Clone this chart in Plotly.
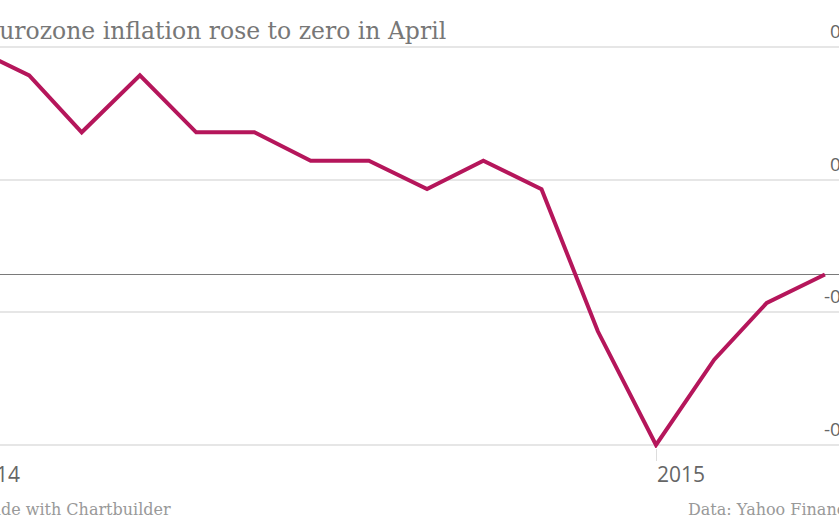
import pandas as pd
import plotly.graph_objects as go

# Eurozone annual inflation, %
months = [
    "2014-01-01", "2014-02-01", "2014-03-01", "2014-04-01", "2014-05-01",
    "2014-06-01", "2014-07-01", "2014-08-01", "2014-09-01", "2014-10-01",
    "2014-11-01", "2014-12-01", "2015-01-01", "2015-02-01", "2015-03-01",
    "2015-04-01",
]
inflation = [0.8, 0.7, 0.5, 0.7, 0.5, 0.5, 0.4, 0.4, 0.3, 0.4, 0.3, -0.2,
             -0.6, -0.3, -0.1, 0.0]

y_ticks = [-0.6, -0.1333, 0.3333, 0.8]
y_labels = ["-0.60", "-0.13", "0.33", "0.80"]
x_ticks = ["2014-01-01", "2015-01-01"]
x_labels = ["2014", "2015"]

W, H = 839, 523
TOP, BOTTOM = 44, 448  # plot area in pixels (a little padding round the grid)
PAD = 3 / 284.3        # 3px of padding in data units
x_range = [pd.Timestamp("2014-01-16 11:00"), pd.Timestamp("2015-04-08 12:00")]


def xfrac(d):
    d = pd.Timestamp(d)
    return (d - x_range[0]) / (x_range[1] - x_range[0])


def ypaper(py):
    return (BOTTOM - py) / (BOTTOM - TOP)


line_col = "#b5165b"
grey = "#777777"

fig = go.Figure()
fig.add_trace(
    go.Scatter(
        x=months,
        y=inflation,
        mode="lines",
        line=dict(color=line_col, width=4),
        hoverinfo="x+y",
    )
)

fig.update_xaxes(
    range=[x_range[0], x_range[1]],
    showgrid=False,
    zeroline=False,
    showline=False,
    tickvals=[x_ticks[1]],
    ticks="outside",
    ticklen=12,
    tickcolor="#dddddd",
    tickwidth=1,
    showticklabels=False,
)
fig.update_yaxes(
    range=[-0.6 - PAD, 0.8 + PAD],
    tickvals=y_ticks,
    showticklabels=False,
    showgrid=True,
    gridcolor="#e6e6e6",
    gridwidth=1.5,
    zeroline=True,
    zerolinecolor="#7a7a7a",
    zerolinewidth=1,
)

annotations = []
# title, cut at the left edge like the source
annotations.append(dict(
    text="Eurozone inflation rose to zero in April",
    xref="paper", yref="paper", x=-20 / W, y=ypaper(31),
    xanchor="left", yanchor="middle", showarrow=False,
    font=dict(family="DejaVu Serif", size=23.5, color=grey),
))
# y tick labels on the right, sitting above the grid lines
for v, lab in zip(y_ticks, y_labels):
    annotations.append(dict(
        text=lab, xref="paper", yref="y", x=870 / W, y=v,
        xanchor="right", yanchor="bottom", yshift=1, showarrow=False,
        font=dict(family="Open Sans", size=19, color="#666666"),
    ))
# x tick labels
for d, lab in zip(x_ticks, x_labels):
    annotations.append(dict(
        text=lab, xref="paper", yref="paper", x=xfrac(d), y=ypaper(474),
        xanchor="left", yanchor="middle", xshift=-1, showarrow=False,
        font=dict(family="Open Sans", size=21, color="#666666"),
    ))
# footer
annotations.append(dict(
    text="Made with Chartbuilder", xref="paper", yref="paper",
    x=-27 / W, y=ypaper(510), xanchor="left", yanchor="middle",
    showarrow=False, font=dict(family="DejaVu Serif", size=16, color="#999999"),
))
annotations.append(dict(
    text="Data: Yahoo Finance", xref="paper", yref="paper",
    x=686 / W, y=ypaper(510), xanchor="left", yanchor="middle",
    showarrow=False, font=dict(family="DejaVu Serif", size=16, color="#999999"),
))

fig.update_layout(
    width=W,
    height=H,
    margin=dict(l=0, r=0, t=TOP, b=H - BOTTOM),
    plot_bgcolor="white",
    paper_bgcolor="white",
    showlegend=False,
    annotations=annotations,
)

fig.write_html(
    "out.html",
    config={"displayModeBar": False},
    post_script="document.body.style.margin='0';document.body.style.overflow='hidden';",
)
